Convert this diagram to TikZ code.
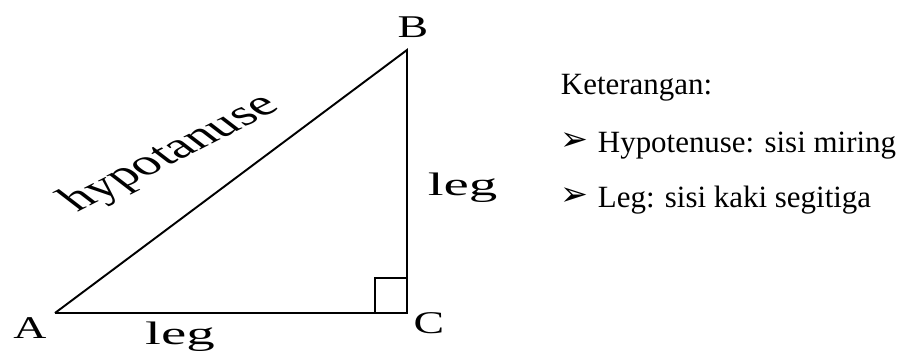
\documentclass[tikz,border=0pt]{standalone}
\usepackage{fontspec}
\setmainfont{Liberation Serif}
\newfontfamily\simbol{DejaVu Sans}
\usepackage{tikz}

\begin{document}
\begin{tikzpicture}[line width=1.1pt,
    titik/.style={font=\fontsize{18}{21}\selectfont, xscale=1.45, anchor=base, inner sep=0pt},
    sisi/.style={font=\fontsize{18.5}{22}\selectfont, xscale=1.75, anchor=base, inner sep=0pt},
    hipo/.style={font=\fontsize{20.5}{24}\selectfont, cm={1.24,0.632,-1.011,0.775,(0,0)}, inner sep=0pt},
    ket/.style={font=\fontsize{17.6}{21}\selectfont, anchor=base west, inner sep=0pt},
    panah/.style={font=\simbol\fontsize{19}{22}\selectfont, anchor=base west, inner sep=0pt}]
    % 0. Batas gambar
    \useasboundingbox (0,0) rectangle (18.16,7.04);

    % 1. Titik sudut segitiga
    \coordinate (A) at (1.1,0.78);
    \coordinate (C) at (8.14,0.78);
    \coordinate (B) at (8.14,6.04);

    % 2. Sisi-sisi segitiga
    \draw (A) -- (C) -- (B) -- (A);

    % 3. Tanda sudut siku-siku di C
    \draw[line width=0.9pt] (C) ++(-0.64,0) -- ++(0,0.7) -- ++(0.64,0);

    % 4. Label titik sudut dan sisi
    \node[titik] (labelA) at (0.6,0.28) {A};
    \node[titik] (labelB) at (8.26,6.28) {B};
    \node[titik] (labelC) at (8.58,0.38) {C};
    \node[sisi] (legbawah) at (3.6,0.16) {leg};
    \node[sisi] (legkanan) at (9.25,3.14) {leg};
    \node[hipo] (hipotenusa) at (3.42,3.96) {hypotanuse};

    % 5. Keterangan di sebelah kanan
    \node[ket] (judul) at (11.2,5.14) {Keterangan:};
    \node[panah] (panah1) at (11.2,4.03) {➢};
    \node[ket] (ket1) at (11.94,4.0) {Hypotenuse: sisi miring};
    \node[panah] (panah2) at (11.2,2.93) {➢};
    \node[ket] (ket2) at (11.94,2.9) {Leg: sisi kaki segitiga};
\end{tikzpicture}
\end{document}
